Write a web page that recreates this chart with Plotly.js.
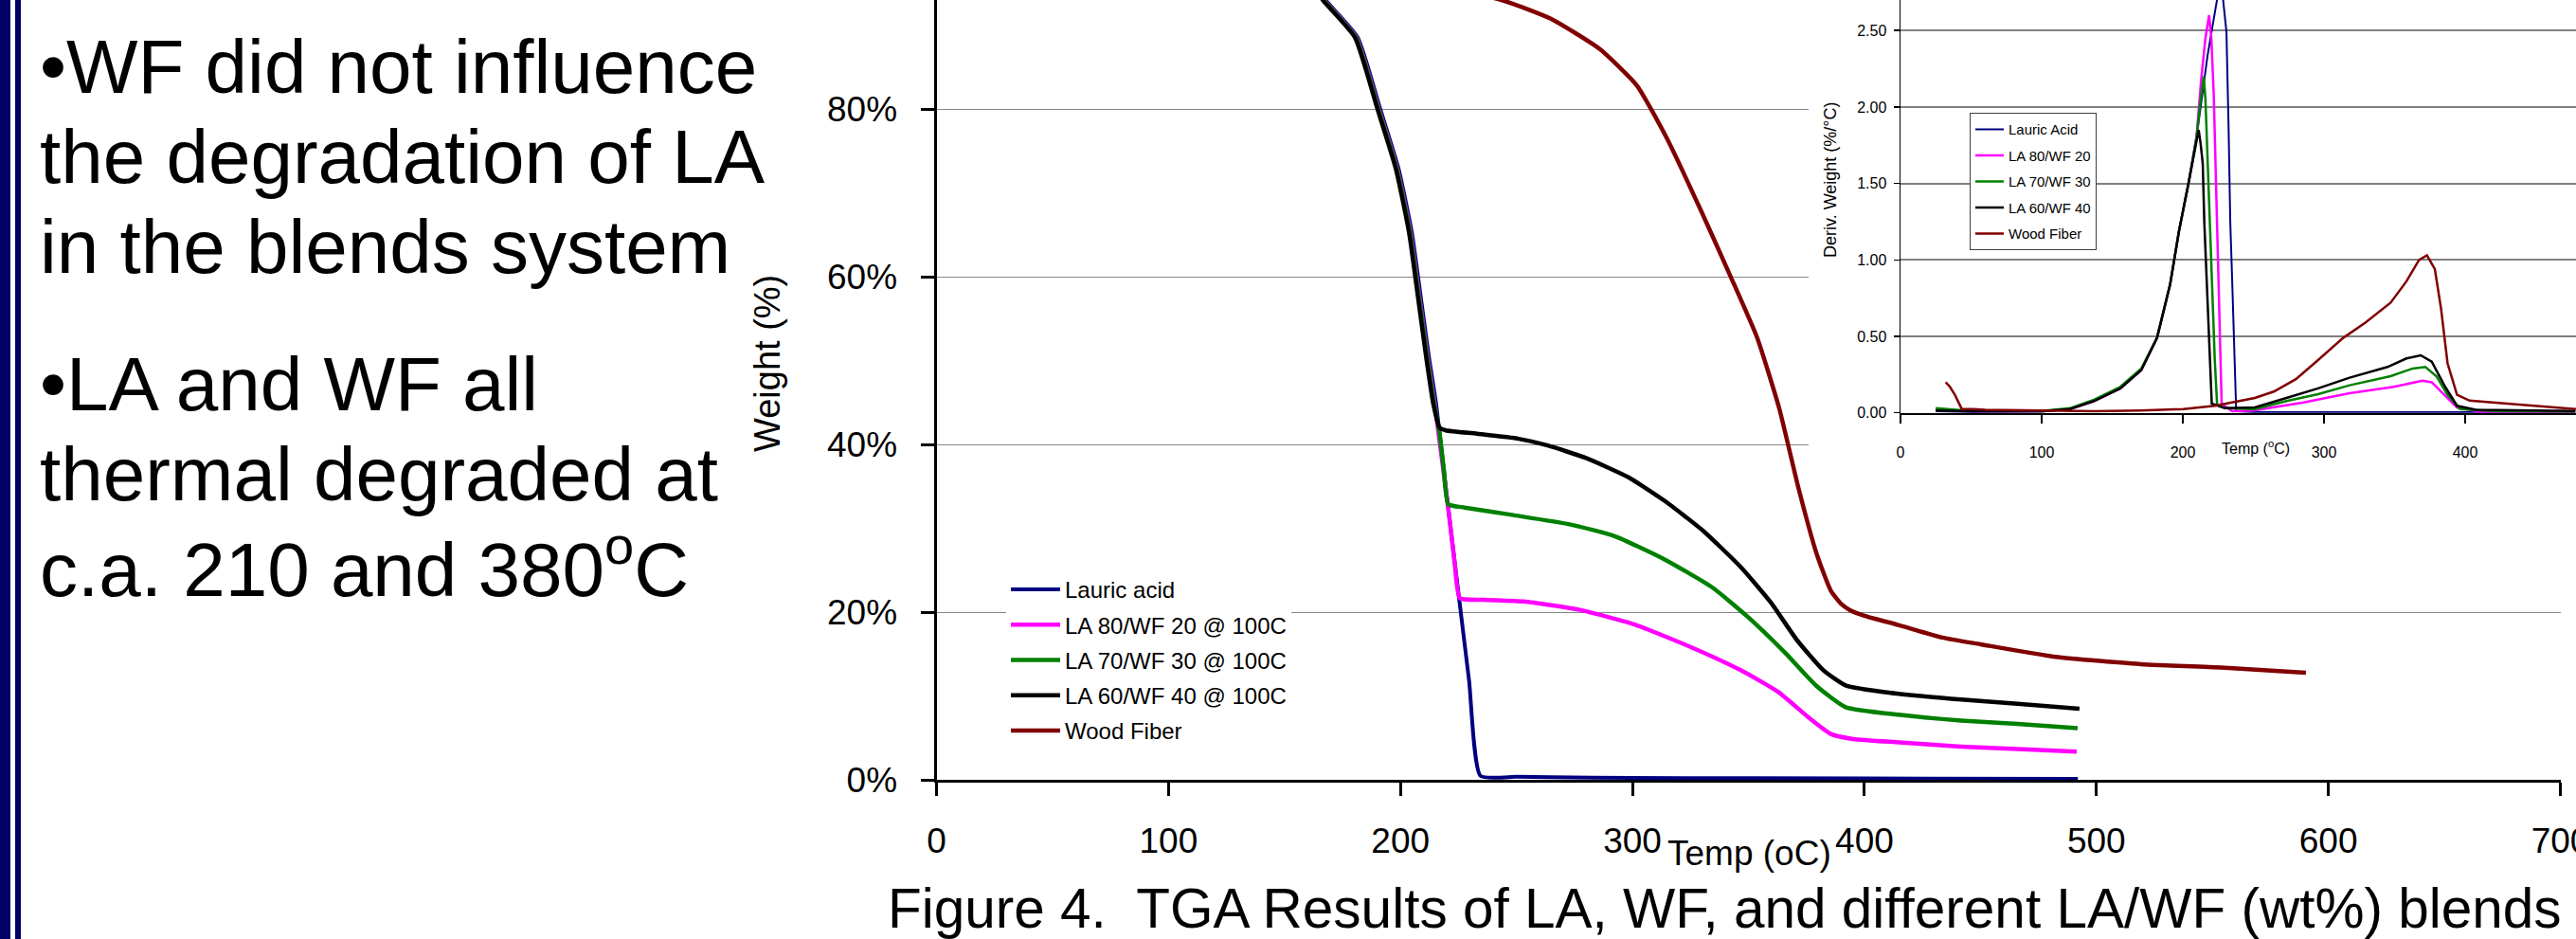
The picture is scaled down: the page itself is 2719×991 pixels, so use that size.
<!DOCTYPE html>
<html>
<head>
<meta charset="utf-8">
<script src="https://cdn.plot.ly/plotly-3.0.1.min.js"></script>
<style>
  html, body { margin: 0; padding: 0; background: #ffffff; overflow: hidden; }
  #chart { width: 2719px; height: 991px; }
</style>
</head>
<body>
<div id="chart"></div>
<script>
// ---------------- DATA ----------------
// Main TGA chart: temperature (°C) vs weight (%)
const tgaNames = ["Lauric acid", "LA 80/WF 20 @ 100C", "LA 70/WF 30 @ 100C", "LA 60/WF 40 @ 100C", "Wood Fiber"];

const tgaLA_T = [25, 80, 120, 145.5, 160.5, 167.8, 181.5, 191.2, 199.2, 204.9, 208.9, 212.2, 215.4, 220.2, 225.0, 229.6, 234.5, 250, 265, 300, 400, 492];
const tgaLA_W = [100, 99.9, 99.3, 97.8, 95.8, 93.0, 88.6, 80.1, 72.9, 65.3, 57.3, 50.6, 44.8, 33.3, 22.3, 11.8, 0.5, 0.4, 0.35, 0.25, 0.2, 0.15];

const tga80_T = [25, 80, 120, 145, 160, 167.2, 180.9, 190.6, 198.6, 204.3, 208.3, 211.6, 214.8, 218.0, 221.0, 223.4, 225.6, 236, 253.1, 277.3, 301.5, 325.7, 346.7, 362.9, 375.8, 385.5, 395.2, 415, 441.7, 466, 491.5];
const tga80_W = [100, 99.9, 99.3, 97.8, 95.8, 93.0, 88.6, 80.1, 72.9, 65.3, 57.3, 50.6, 44.8, 38.0, 31.5, 25.8, 21.7, 21.5, 21.3, 20.3, 18.5, 15.8, 13.1, 10.5, 7.5, 5.5, 4.9, 4.5, 4.0, 3.7, 3.4];

const tga70_T = [25, 80, 120, 145, 160, 167.0, 180.7, 190.4, 198.4, 204.1, 208.1, 211.4, 214.6, 216.8, 218.7, 220.6, 227.7, 248.7, 272.9, 292.3, 313.3, 334.3, 350, 366.1, 379, 391.9, 414.6, 441.7, 466, 491.9];
const tga70_W = [100, 99.9, 99.3, 97.8, 95.8, 93.0, 88.6, 80.1, 72.9, 65.3, 57.3, 50.6, 44.8, 41.5, 37.0, 32.9, 32.5, 31.6, 30.5, 29.1, 26.4, 23.0, 19.4, 15.1, 11.3, 8.7, 7.8, 7.1, 6.7, 6.2];

const tga60_T = [25, 80, 120, 144.5, 159.5, 166.6, 180.3, 190.0, 198.0, 203.7, 207.7, 211.0, 214.2, 216.9, 219.6, 233.0, 251, 263.5, 280, 298.3, 314.4, 330.6, 346.7, 359.6, 370.9, 382.3, 391.9, 411.3, 441.7, 466, 492.7];
const tga60_W = [100, 99.9, 99.3, 97.8, 95.8, 93.0, 88.6, 80.1, 72.9, 65.3, 57.3, 50.6, 44.8, 42.0, 41.7, 41.3, 40.7, 39.9, 38.4, 36.1, 33.2, 29.7, 25.4, 21.2, 16.7, 13.1, 11.3, 10.4, 9.6, 9.1, 8.5];

const tgaWF_T = [25, 35, 45, 100, 200, 243.9, 264.8, 285.8, 302, 314.9, 329.4, 342.4, 353.7, 363.3, 371.5, 379.5, 385.5, 390, 393.6, 400, 414.6, 433.5, 450, 482.3, 520.6, 555.5, 590.3];
const tgaWF_W = [100, 99.7, 97.8, 97.3, 95.5, 93.0, 90.8, 87.2, 82.8, 76.5, 68.0, 60.0, 52.8, 44.3, 34.9, 26.9, 22.6, 21.0, 20.3, 19.6, 18.5, 17.0, 16.2, 14.7, 13.8, 13.4, 12.8];

// Inset DTG chart: temperature (°C) vs derivative weight (%/°C)
const dtgNames = ["Lauric Acid", "LA 80/WF 20", "LA 70/WF 30", "LA 60/WF 40", "Wood Fiber"];

const dtgLA_T = [25, 50, 100, 120, 137, 155.7, 170.6, 181.7, 191, 197.3, 204, 210.7, 217.4, 224.2, 226.5, 228.7, 230.9, 232.4, 233.6, 234.9, 236.3, 237.8, 250, 300, 400, 478];
const dtgLA_D = [0.01, 0.005, 0.008, 0.025, 0.077, 0.16, 0.28, 0.49, 0.84, 1.19, 1.50, 1.87, 2.33, 2.70, 2.88, 2.70, 2.49, 1.87, 1.25, 0.88, 0.40, 0.01, 0.005, 0.005, 0.005, 0.005];

const dtg80_T = [25, 50, 100, 120, 137, 155.7, 170.6, 181.7, 191, 197.3, 204, 209.6, 213, 216, 218.6, 220.2, 221.9, 223.6, 225.3, 226.5, 227.5, 235, 250, 284.6, 318.1, 349.4, 369.6, 376.3, 385.2, 394.2, 410, 478];
const dtg80_D = [0.02, 0.01, 0.01, 0.025, 0.077, 0.16, 0.28, 0.49, 0.84, 1.19, 1.50, 1.79, 2.18, 2.45, 2.60, 2.45, 2.08, 1.47, 0.86, 0.35, 0.06, 0.01, 0.015, 0.066, 0.128, 0.17, 0.21, 0.20, 0.118, 0.035, 0.008, 0.005];

const dtg70_T = [25, 50, 100, 120, 137, 155.7, 170.6, 181.7, 191, 197.3, 204, 209.6, 212.2, 214.8, 216.0, 217.4, 219.1, 220.8, 222.6, 224.3, 230, 251, 273.4, 295.8, 318.1, 347.2, 362.9, 371.8, 379.6, 387.5, 396.4, 420, 478];
const dtg70_D = [0.03, 0.012, 0.012, 0.03, 0.085, 0.17, 0.29, 0.49, 0.84, 1.19, 1.50, 1.79, 2.02, 2.20, 2.05, 1.67, 1.25, 0.86, 0.35, 0.05, 0.03, 0.025, 0.077, 0.122, 0.18, 0.24, 0.29, 0.30, 0.24, 0.118, 0.025, 0.012, 0.008];

const dtg60_T = [25, 50, 100, 120, 137, 155.7, 170.6, 181.7, 191, 197.3, 204, 209.6, 211.2, 212.6, 214.1, 215.2, 216.8, 218.7, 220.5, 230, 251, 273.4, 295.8, 318.1, 345, 358.4, 368.5, 376.3, 385.2, 394.2, 407.6, 478];
const dtg60_D = [0.015, 0.01, 0.01, 0.025, 0.077, 0.16, 0.28, 0.49, 0.84, 1.19, 1.50, 1.79, 1.85, 1.76, 1.63, 1.25, 0.88, 0.45, 0.06, 0.03, 0.035, 0.097, 0.16, 0.23, 0.30, 0.356, 0.376, 0.335, 0.18, 0.046, 0.02, 0.012];

const dtgWF_T = [32, 35, 38.5, 43.4, 51.5, 60, 100, 137, 170, 200.3, 222.7, 251, 264.4, 280.1, 295.8, 313.6, 329.3, 347.2, 358.4, 367.3, 372.9, 378.5, 383, 387.5, 394.2, 403.1, 430, 478.5];
const dtgWF_D = [0.20, 0.17, 0.118, 0.025, 0.025, 0.02, 0.015, 0.01, 0.015, 0.025, 0.046, 0.097, 0.139, 0.22, 0.345, 0.49, 0.59, 0.72, 0.86, 1.00, 1.03, 0.94, 0.675, 0.325, 0.118, 0.08, 0.06, 0.025];

const mainXTicks = [0, 100, 200, 300, 400, 500, 600, 700];
const mainYTicks = [0, 20, 40, 60, 80];
const mainYTickText = ["0%", "20%", "40%", "60%", "80%"];
const insetXTicks = [0, 100, 200, 300, 400];
const insetYTicks = [0, 0.5, 1.0, 1.5, 2.0, 2.5];

const bulletLines = [
  "\u2022WF did not influence",
  "the degradation of LA",
  "in the blends system",
  "\u2022LA and WF all",
  "thermal degraded at",
  "c.a. 210 and 380<sup>o</sup>C"
];
const captionText = "Figure 4.  TGA Results of LA, WF, and different LA/WF (wt%) blends";

// ---------------- STYLE / LAYOUT ----------------
const W = 2719, H = 991;
const px = v => v / W;           // pixel -> paper x
const py = v => 1 - v / H;       // pixel -> paper y
const FONT = "Liberation Sans, Arial, Helvetica, sans-serif";
const colors = ["#000080", "#FF00FF", "#008000", "#000000", "#800000"];

const tgaT = [tgaLA_T, tga80_T, tga70_T, tga60_T, tgaWF_T];
const tgaW = [tgaLA_W, tga80_W, tga70_W, tga60_W, tgaWF_W];
const dtgT = [dtgLA_T, dtg80_T, dtg70_T, dtg60_T, dtgWF_T];
const dtgD = [dtgLA_D, dtg80_D, dtg70_D, dtg60_D, dtgWF_D];
const mainWidths = [4, 4.5, 4.5, 4.5, 4.5];
const insetWidths = [2, 2.5, 2.5, 2.5, 2.5];

const traces = [];
for (let i = 0; i < 5; i++) {
  traces.push({
    type: "scatter", mode: "lines",
    x: tgaT[i], y: tgaW[i], name: tgaNames[i],
    xaxis: "x", yaxis: "y",
    line: { color: colors[i], width: mainWidths[i], shape: "spline", smoothing: 0.5 },
    legend: "legend", legendgroup: "m" + i,
    hoverinfo: "skip"
  });
}
// empty helper trace that defines the white inset box subplot
traces.push({ type: "scatter", mode: "lines", x: [], y: [], xaxis: "x2", yaxis: "y2", showlegend: false, hoverinfo: "skip" });
for (let i = 0; i < 5; i++) {
  traces.push({
    type: "scatter", mode: "lines",
    x: dtgT[i], y: dtgD[i], name: dtgNames[i],
    xaxis: "x3", yaxis: "y3",
    line: { color: colors[i], width: insetWidths[i] },
    legend: "legend2", legendgroup: "i" + i,
    hoverinfo: "skip"
  });
}

const annotations = [];
const baselines = [98, 193, 288, 433, 528, 623];
bulletLines.forEach((t, i) => {
  annotations.push({
    xref: "paper", yref: "paper", x: px(41), y: py(baselines[i] - 27.7),
    xanchor: "left", yanchor: "middle", showarrow: false, borderpad: 0,
    text: t, font: { family: FONT, size: 80, color: "#000" }
  });
});
annotations.push({
  xref: "paper", yref: "paper", x: px(810), y: py(384), xanchor: "center", yanchor: "middle",
  showarrow: false, textangle: -90, text: "Weight (%)", font: { family: FONT, size: 38, color: "#000" }
});
annotations.push({
  xref: "paper", yref: "paper", x: px(1846.5), y: py(900), xanchor: "center", yanchor: "middle",
  showarrow: false, text: "Temp (oC)", font: { family: FONT, size: 37, color: "#000" }
});
annotations.push({
  xref: "paper", yref: "paper", x: px(936), y: py(958.6), xanchor: "left", yanchor: "middle",
  showarrow: false, borderpad: 0, text: captionText, font: { family: FONT, size: 58.5, color: "#000" }
});
annotations.push({
  xref: "paper", yref: "paper", x: px(2381), y: py(472), xanchor: "center", yanchor: "middle",
  showarrow: false, text: "Temp (<sup>o</sup>C)", font: { family: FONT, size: 16, color: "#000" }
});
annotations.push({
  xref: "paper", yref: "paper", x: px(1932), y: py(190), xanchor: "center", yanchor: "middle",
  showarrow: false, textangle: -90, text: "Deriv. Weight (%/\u00B0C)", font: { family: FONT, size: 18, color: "#000" }
});

const layout = {
  width: W, height: H,
  margin: { l: 0, r: 0, t: 0, b: 0, pad: 0 },
  paper_bgcolor: "#ffffff", plot_bgcolor: "#ffffff",
  font: { family: FONT, color: "#000" },
  showlegend: true,
  xaxis: {
    domain: [px(988.5), px(2702.5)], anchor: "y", range: [0, 700],
    tickmode: "array", tickvals: mainXTicks,
    ticks: "outside", ticklen: 14, tickwidth: 3, tickcolor: "#000",
    showline: true, linewidth: 3, linecolor: "#000",
    showgrid: false, zeroline: false,
    tickfont: { family: FONT, size: 37, color: "#000" },
    ticklabelstandoff: 15, ticklabeloverflow: "allow"
  },
  yaxis: {
    domain: [py(823.3), 1], anchor: "x", range: [0, 93.03],
    tickmode: "array", tickvals: mainYTicks, ticktext: mainYTickText,
    ticks: "outside", ticklen: 14, tickwidth: 3, tickcolor: "#000",
    showline: true, linewidth: 3, linecolor: "#000",
    showgrid: true, gridcolor: "#868686", gridwidth: 1.3, zeroline: false,
    tickfont: { family: FONT, size: 37, color: "#000" },
    ticklabelstandoff: 17
  },
  xaxis2: { domain: [px(1909), 1], anchor: "y2", range: [0, 1], visible: false },
  yaxis2: { domain: [py(500), 1], anchor: "x2", range: [0, 1], visible: false },
  xaxis3: {
    domain: [px(2006), 1], anchor: "y3", range: [0, 478.5],
    tickmode: "array", tickvals: insetXTicks,
    ticks: "outside", ticklen: 9, tickwidth: 1.5, tickcolor: "#000",
    showline: true, linewidth: 2, linecolor: "#000",
    showgrid: false, zeroline: false,
    tickfont: { family: FONT, size: 16, color: "#000" },
    ticklabelstandoff: 17
  },
  yaxis3: {
    domain: [py(435.7), 1], anchor: "x3", range: [0, 2.6995],
    tickmode: "array", tickvals: insetYTicks, tickformat: ".2f",
    ticks: "outside", ticklen: 6, tickwidth: 1.5, tickcolor: "#000",
    showline: true, linewidth: 1.5, linecolor: "#000",
    showgrid: true, gridcolor: "#808080", gridwidth: 2, zeroline: false,
    tickfont: { family: FONT, size: 16, color: "#000" },
    ticklabelstandoff: 4
  },
  legend: {
    x: px(1062), y: py(600), xanchor: "left", yanchor: "top",
    bgcolor: "#ffffff", borderwidth: 0, tracegroupgap: 3, itemwidth: 52,
    font: { family: FONT, size: 24, color: "#000" }
  },
  legend2: {
    x: px(2079), y: py(119.3), xanchor: "left", yanchor: "top",
    bgcolor: "#ffffff", bordercolor: "#404040", borderwidth: 1, tracegroupgap: 5,
    font: { family: FONT, size: 15, color: "#000" }
  },
  shapes: [
    { type: "rect", xref: "paper", yref: "paper", x0: 0, x1: px(11), y0: 0, y1: 1, fillcolor: "#000066", line: { width: 0 }, layer: "below" },
    { type: "rect", xref: "paper", yref: "paper", x0: px(16), x1: px(22), y0: 0, y1: 1, fillcolor: "#000066", line: { width: 0 }, layer: "below" }
  ],
  annotations: annotations
};

Plotly.newPlot("chart", traces, layout, { staticPlot: true, displayModeBar: false });
</script>
</body>
</html>
